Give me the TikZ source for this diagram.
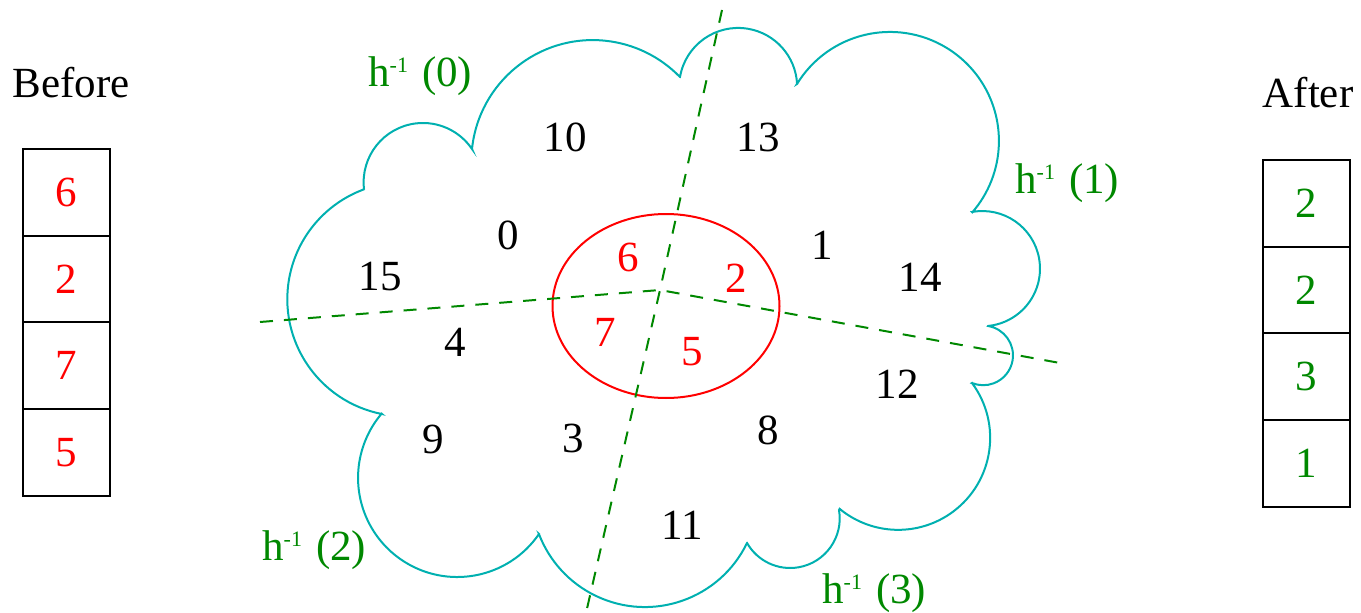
\documentclass[tikz,border=0pt]{standalone}
\usepackage{fontspec}
\setmainfont{Liberation Serif}
\usetikzlibrary{shapes.geometric}
\definecolor{cloudc}{RGB}{0,176,176}
\definecolor{hgreen}{RGB}{0,136,0}
\newcommand\myfont{\fontsize{43}{50}\selectfont}
\newcommand\hinv[1]{h\raisebox{14pt}{\fontsize{22}{22}\selectfont -1}\hspace{14pt}(#1)}
\tikzset{
  cloudline/.style={draw=cloudc, line width=2pt},
  cell/.style={draw=black, line width=2pt, minimum width=86.7pt, minimum height=86.6pt, inner sep=0pt, font=\myfont},
  num/.style={inner sep=0pt, font=\myfont},
  rednum/.style={num, text=red},
  grnum/.style={text=hgreen},
  hlabel/.style={inner sep=0pt, anchor=base west, font=\myfont, text=hgreen},
  part/.style={draw=hgreen, line width=2pt, dash pattern=on 13pt off 11pt},
}
\begin{document}
\begin{tikzpicture}[x=1pt, y=-1pt]
\useasboundingbox (0,0) rectangle (1361,613);

% cloud
\draw[cloudline] (364,189)
  arc[start angle=173.5, end angle=325.9, radius=59.3] -- (472,149)
  arc[start angle=185.9, end angle=315.9, radius=121.4] -- (680,77)
  arc[start angle=189.7, end angle=357.1, radius=59] -- (797,84)
  arc[start angle=211.5, end angle=400.9, radius=109] -- (972,212)
  arc[start angle=259.6, end angle=444.4, radius=57.6] -- (988,326)
  arc[start angle=279.3, end angle=472.1, radius=29.8] -- (972,383)
  arc[start angle=323.4, end angle=489.5, radius=92] -- (839,510)
  arc[start angle=-9.75, end angle=150.3, radius=49.6] -- (747,543)
  arc[start angle=25.8, end angle=159.2, radius=113.4] -- (539,534)
  arc[start angle=34.5, end angle=220.3, radius=99.2] -- (382,414)
  arc[start angle=101, end angle=249.7, radius=117] -- cycle;

% inner set
\node[ellipse, draw=red, line width=2pt, minimum width=227pt, minimum height=184pt, inner sep=0pt] (set) at (666,306) {};

% partition lines
\coordinate (O) at (660,290);
\coordinate (eT) at (722,10);
\coordinate (eB) at (586,613);
\coordinate (eL) at (260,322);
\coordinate (eR) at (1060,363);
\draw[part] (eL) -- (O) -- (eR);
\draw[part] (eT) -- (O) -- (eB);

% keys in the universe
\node[num] (k10) at (565,137) {10};
\node[num] (k13) at (758,137) {13};
\node[num] (k0) at (508,235) {0};
\node[num] (k15) at (380,277) {15};
\node[num] (k1) at (822,245) {1};
\node[num] (k14) at (920,277) {14};
\node[num] (k4) at (455,342) {4};
\node[num] (k12) at (897,384) {12};
\node[num] (k9) at (433,439) {9};
\node[num] (k3) at (573,438) {3};
\node[num] (k8) at (768,430) {8};
\node[num] (k11) at (682,525) {11};

% keys in the set
\node[rednum] (s6) at (628,257) {6};
\node[rednum] (s2) at (736,278) {2};
\node[rednum] (s7) at (605,332) {7};
\node[rednum] (s5) at (692,352) {5};

% bucket labels
\node[hlabel] (h0) at (368,86) {\hinv{0}};
\node[hlabel] (h1) at (1015,193) {\hinv{1}};
\node[hlabel] (h2) at (262,560) {\hinv{2}};
\node[hlabel] (h3) at (822,603) {\hinv{3}};

% before
\node[num, anchor=base] (before) at (71,97) {Before};
\node[cell, text=red] (b1) at (66.7,192.6) {6};
\node[cell, text=red] (b2) at (66.7,279.1) {2};
\node[cell, text=red] (b3) at (66.7,365.7) {7};
\node[cell, text=red] (b4) at (66.7,452.2) {5};

% after
\node[num, anchor=base] (after) at (1308,107) {After};
\node[cell, grnum] (a1) at (1306.7,203.3) {2};
\node[cell, grnum] (a2) at (1306.7,290) {2};
\node[cell, grnum] (a3) at (1306.7,376.7) {3};
\node[cell, grnum] (a4) at (1306.7,463.4) {1};
\end{tikzpicture}
\end{document}
